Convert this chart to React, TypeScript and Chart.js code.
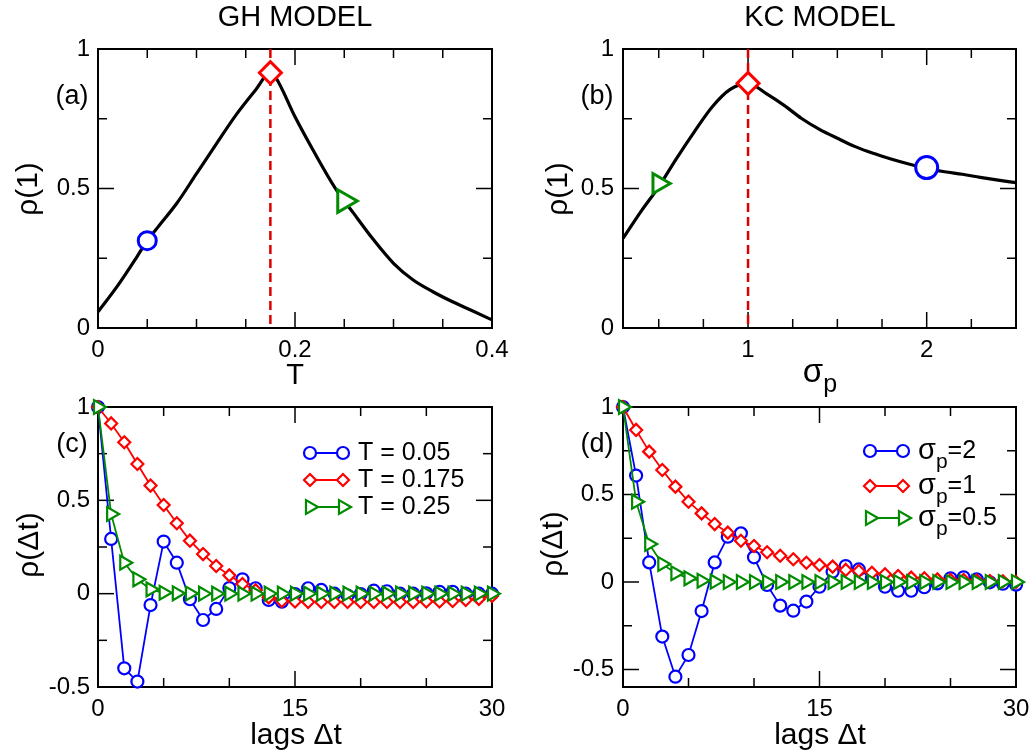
import { useEffect, useRef } from 'react';
import { Chart, registerables } from 'chart.js';

Chart.register(...registerables);

const W = 1034;
const H = 756;
const FONT = '"Liberation Sans", Arial, Helvetica, sans-serif';
const BLUE = '#0000ff';
const RED = '#ff0000';
const GREEN = '#008b00';
const DASH_RED = '#dd0000';

// ---------- Panel (a): GH model, rho(1) vs T ----------
const ghT = [0, 0.02, 0.04, 0.05, 0.06, 0.08, 0.1, 0.12, 0.14, 0.16, 0.175, 0.18, 0.2, 0.22, 0.24, 0.26, 0.28, 0.3, 0.32, 0.34, 0.36, 0.38, 0.4];
const ghRho1 = [0.058, 0.152, 0.258, 0.313, 0.358, 0.447, 0.553, 0.659, 0.763, 0.853, 0.915, 0.9, 0.757, 0.627, 0.506, 0.409, 0.315, 0.232, 0.172, 0.13, 0.094, 0.062, 0.029];
const ghPeakT = 0.175;
const ghMarkT = [0.05, 0.175, 0.25];
const ghMarkRho = [0.313, 0.915, 0.455];
const ghXTicks = [0, 0.2, 0.4];
const ghXMinor = [0.05, 0.1, 0.15, 0.25, 0.3, 0.35];
const rhoYTicks = [0, 0.5, 1];
const rhoYMinor = [0.25, 0.75];

// ---------- Panel (b): KC model, rho(1) vs sigma_p ----------
const kcSigma = [0.3, 0.4, 0.5, 0.6, 0.7, 0.8, 0.9, 1.0, 1.1, 1.2, 1.3, 1.4, 1.5, 1.6, 1.7, 1.8, 1.9, 2.0, 2.1, 2.2, 2.3, 2.4, 2.5];
const kcRho1 = [0.321, 0.417, 0.506, 0.608, 0.704, 0.793, 0.855, 0.877, 0.841, 0.799, 0.751, 0.712, 0.68, 0.65, 0.626, 0.606, 0.588, 0.572, 0.56, 0.551, 0.54, 0.53, 0.521];
const kcPeakSigma = 1;
const kcMarkSigma = [2, 1, 0.5];
const kcMarkRho = [0.575, 0.877, 0.518];
const kcXTicks = [1, 2];
const kcXMinor = [0.5, 0.75, 1.25, 1.5, 1.75, 2.25];

// ---------- Panels (c), (d): autocorrelation vs lag ----------
const lags = [0, 1, 2, 3, 4, 5, 6, 7, 8, 9, 10, 11, 12, 13, 14, 15, 16, 17, 18, 19, 20, 21, 22, 23, 24, 25, 26, 27, 28, 29, 30];
const ghAcfT005 = [1.0, 0.293, -0.4, -0.471, -0.061, 0.279, 0.166, -0.03, -0.141, -0.082, 0.03, 0.077, 0.029, -0.034, -0.043, -0.002, 0.029, 0.02, 0.0, -0.01, -0.002, 0.016, 0.013, 0.0, 0.0, 0.002, 0.01, 0.01, 0.0, 0.0, 0.0];
const ghAcfT0175 = [1.0, 0.912, 0.811, 0.695, 0.579, 0.475, 0.377, 0.284, 0.212, 0.148, 0.098, 0.052, 0.018, -0.02, -0.039, -0.042, -0.045, -0.045, -0.045, -0.045, -0.045, -0.045, -0.045, -0.045, -0.045, -0.042, -0.042, -0.039, -0.034, -0.028, -0.012];
const ghAcfT025 = [1.0, 0.427, 0.166, 0.077, 0.023, 0.005, 0.002, 0.001, 0.0, 0.0, 0.0, 0.0, 0.0, 0.0, 0.0, 0.0, 0.0, 0.0, 0.0, 0.0, 0.0, 0.0, 0.0, 0.0, 0.0, 0.0, 0.0, 0.0, 0.0, 0.0, 0.0];
const kcAcfS2 = [1.0, 0.608, 0.112, -0.312, -0.541, -0.417, -0.166, 0.112, 0.259, 0.278, 0.141, -0.017, -0.135, -0.164, -0.112, -0.027, 0.059, 0.091, 0.072, 0.021, -0.027, -0.05, -0.05, -0.03, -0.008, 0.021, 0.027, 0.015, -0.002, -0.01, -0.015];
const kcAcfS1 = [1.0, 0.869, 0.745, 0.64, 0.545, 0.459, 0.392, 0.331, 0.282, 0.236, 0.206, 0.17, 0.15, 0.13, 0.11, 0.097, 0.088, 0.069, 0.063, 0.053, 0.044, 0.034, 0.025, 0.021, 0.015, 0.011, 0.011, 0.008, 0.006, 0.004, 0.0];
const kcAcfS05 = [1.0, 0.459, 0.217, 0.103, 0.05, 0.021, 0.007, 0.002, 0.0, 0.0, 0.0, 0.0, 0.0, 0.0, 0.0, 0.0, 0.0, 0.0, 0.0, 0.0, 0.0, 0.0, 0.0, 0.0, 0.0, 0.0, 0.0, 0.0, 0.0, 0.0, 0.0];
const lagXTicks = [0, 15, 30];
const lagXMinor = [5, 10, 20, 25];
const acfYTicks = [-0.5, 0, 0.5, 1];
const acfYMinor = [-0.25, 0.25, 0.75];

type TextPart = { t: string; size?: number; dy?: number };
type TextItem = { parts: TextPart[]; x: number; y: number; size: number; align?: 'left' | 'center' | 'right'; rotate?: boolean };
type LegendItem = { color: string; style: string; radius: number; label: TextPart[] };
type PanelCfg = {
  area: [number, number, number, number];
  xRange: [number, number];
  yRange: [number, number];
  xTicks: number[];
  xMinor: number[];
  yTicks: number[];
  yMinor: number[];
  xPad: number;
  yPad: number;
  datasets: any[];
  texts: TextItem[];
  legend?: { items: LegendItem[]; x0: number; x1: number; tx: number; ys: number[] };
};

function drawMarker(ctx: CanvasRenderingContext2D, style: string, x: number, y: number, r: number) {
  ctx.beginPath();
  if (style === 'circle') {
    ctx.arc(x, y, r, 0, Math.PI * 2);
  } else if (style === 'rectRot') {
    ctx.moveTo(x - r, y);
    ctx.lineTo(x, y - r);
    ctx.lineTo(x + r, y);
    ctx.lineTo(x, y + r);
    ctx.closePath();
  } else {
    ctx.moveTo(x + r, y);
    ctx.lineTo(x - r / 2, y + r * 0.866);
    ctx.lineTo(x - r / 2, y - r * 0.866);
    ctx.closePath();
  }
  ctx.fill();
  ctx.stroke();
}

function drawRich(ctx: CanvasRenderingContext2D, item: TextItem) {
  ctx.save();
  ctx.fillStyle = '#000';
  ctx.textBaseline = 'middle';
  ctx.textAlign = 'left';
  const widths = item.parts.map((p) => {
    ctx.font = `${p.size ?? item.size}px ${FONT}`;
    return ctx.measureText(p.t).width;
  });
  const total = widths.reduce((a, b) => a + b, 0);
  ctx.translate(item.x, item.y);
  if (item.rotate) ctx.rotate(-Math.PI / 2);
  let x0 = item.align === 'left' ? 0 : item.align === 'right' ? -total : -total / 2;
  item.parts.forEach((p, i) => {
    ctx.font = `${p.size ?? item.size}px ${FONT}`;
    ctx.fillText(p.t, x0, p.dy ?? 0);
    x0 += widths[i];
  });
  ctx.restore();
}

const pts = (xs: number[], ys: number[]) => xs.map((x, i) => ({ x, y: ys[i] }));

function marker(color: string, style: string, x: number, y: number, r: number, rot = 0) {
  return {
    data: [{ x, y }],
    showLine: false,
    pointStyle: style,
    pointRadius: r,
    pointHoverRadius: r,
    pointBorderColor: color,
    pointBackgroundColor: '#fff',
    pointBorderWidth: 3,
    pointRotation: rot,
    clip: false,
    order: 0,
  };
}

function series(color: string, style: string, r: number, ys: number[], order: number, rot = 0) {
  return {
    data: pts(lags, ys),
    showLine: true,
    borderColor: color,
    borderWidth: 1.8,
    pointStyle: style,
    pointRadius: r,
    pointHoverRadius: r,
    pointBorderColor: color,
    pointBackgroundColor: '#fff',
    pointBorderWidth: 2.2,
    pointRotation: rot,
    clip: false,
    order,
  };
}

function curve(xs: number[], ys: number[]) {
  return {
    data: pts(xs, ys),
    showLine: true,
    borderColor: '#000',
    borderWidth: 3.2,
    pointRadius: 0,
    pointHoverRadius: 0,
    cubicInterpolationMode: 'monotone',
    clip: false,
    order: 2,
  };
}

function vline(x: number) {
  return {
    data: [{ x, y: 1 }, { x, y: 0 }],
    showLine: true,
    borderColor: DASH_RED,
    borderWidth: 2.5,
    borderDash: [9, 5],
    pointRadius: 0,
    pointHoverRadius: 0,
    order: 1,
  };
}

const sig = (rest: string): TextPart[] => [{ t: 'σ', size: 29 }, { t: 'p', size: 21, dy: 11 }, { t: rest }];

const panels: PanelCfg[] = [
  {
    area: [98, 49, 492, 328],
    xRange: [0, 0.4],
    yRange: [0, 1],
    xTicks: ghXTicks,
    xMinor: ghXMinor,
    yTicks: rhoYTicks,
    yMinor: rhoYMinor,
    xPad: 8,
    yPad: 8,
    datasets: [
      curve(ghT, ghRho1),
      vline(ghPeakT),
      marker(BLUE, 'circle', ghMarkT[0], ghMarkRho[0], 9),
      marker(RED, 'rectRot', ghMarkT[1], ghMarkRho[1], 11),
      marker(GREEN, 'triangle', ghMarkT[2], ghMarkRho[2], 13, 90),
    ],
    texts: [
      { parts: [{ t: 'GH MODEL' }], x: 295, y: 18, size: 29 },
      { parts: [{ t: 'T' }], x: 295, y: 376, size: 29 },
      { parts: [{ t: 'ρ(1)' }], x: 29, y: 189, size: 30, rotate: true },
      { parts: [{ t: '(a)' }], x: 72, y: 97, size: 27 },
    ],
  },
  {
    area: [623, 49, 1016, 328],
    xRange: [0.3, 2.5],
    yRange: [0, 1],
    xTicks: kcXTicks,
    xMinor: kcXMinor,
    yTicks: rhoYTicks,
    yMinor: rhoYMinor,
    xPad: 8,
    yPad: 9,
    datasets: [
      curve(kcSigma, kcRho1),
      vline(kcPeakSigma),
      marker(BLUE, 'circle', kcMarkSigma[0], kcMarkRho[0], 11),
      marker(RED, 'rectRot', kcMarkSigma[1], kcMarkRho[1], 11),
      marker(GREEN, 'triangle', kcMarkSigma[2], kcMarkRho[2], 11.5, 90),
    ],
    texts: [
      { parts: [{ t: 'KC MODEL' }], x: 820, y: 18, size: 29 },
      { parts: [{ t: 'σ', size: 33 }, { t: 'p', size: 25, dy: 12 }], x: 820, y: 373, size: 30 },
      { parts: [{ t: 'ρ(1)' }], x: 559, y: 189, size: 30, rotate: true },
      { parts: [{ t: '(b)' }], x: 597, y: 97, size: 27 },
    ],
  },
  {
    area: [98, 407, 492, 687],
    xRange: [0, 30],
    yRange: [-0.5, 1],
    xTicks: lagXTicks,
    xMinor: lagXMinor,
    yTicks: acfYTicks,
    yMinor: acfYMinor,
    xPad: 8,
    yPad: 8,
    datasets: [
      series(BLUE, 'circle', 6, ghAcfT005, 3),
      series(RED, 'rectRot', 6, ghAcfT0175, 2),
      series(GREEN, 'triangle', 8, ghAcfT025, 1, 90),
    ],
    texts: [
      { parts: [{ t: 'lags Δt' }], x: 296, y: 736, size: 30 },
      { parts: [{ t: 'ρ(Δt)' }], x: 30, y: 545, size: 30, rotate: true },
      { parts: [{ t: '(c)' }], x: 72, y: 445, size: 27 },
    ],
    legend: {
      x0: 310,
      x1: 343,
      tx: 358,
      ys: [453, 480, 507],
      items: [
        { color: BLUE, style: 'circle', radius: 6, label: [{ t: 'T = 0.05' }] },
        { color: RED, style: 'rectRot', radius: 6, label: [{ t: 'T = 0.175' }] },
        { color: GREEN, style: 'triangle', radius: 8, label: [{ t: 'T = 0.25' }] },
      ],
    },
  },
  {
    area: [623, 407, 1016, 687],
    xRange: [0, 30],
    yRange: [-0.6, 1],
    xTicks: lagXTicks,
    xMinor: lagXMinor,
    yTicks: acfYTicks,
    yMinor: acfYMinor,
    xPad: 8,
    yPad: 9,
    datasets: [
      series(BLUE, 'circle', 6, kcAcfS2, 3),
      series(RED, 'rectRot', 6, kcAcfS1, 2),
      series(GREEN, 'triangle', 8, kcAcfS05, 1, 90),
    ],
    texts: [
      { parts: [{ t: 'lags Δt' }], x: 820, y: 736, size: 30 },
      { parts: [{ t: 'ρ(Δt)' }], x: 554, y: 544, size: 30, rotate: true },
      { parts: [{ t: '(d)' }], x: 597, y: 445, size: 27 },
    ],
    legend: {
      x0: 870,
      x1: 903,
      tx: 918,
      ys: [451, 486, 518],
      items: [
        { color: BLUE, style: 'circle', radius: 6, label: sig('=2') },
        { color: RED, style: 'rectRot', radius: 6, label: sig('=1') },
        { color: GREEN, style: 'triangle', radius: 8, label: sig('=0.5') },
      ],
    },
  },
];

function buildChart(canvas: HTMLCanvasElement, p: PanelCfg) {
  const [l, t, r, b] = p.area;
  const zeroPad = (s: any) => {
    s.paddingLeft = 0;
    s.paddingRight = 0;
    s.paddingTop = 0;
    s.paddingBottom = 0;
  };
  const deco = {
    id: 'deco',
    beforeDatasetsDraw(chart: any) {
      const ctx = chart.ctx as CanvasRenderingContext2D;
      const xs = chart.scales.x;
      const ys = chart.scales.y;
      ctx.save();
      ctx.strokeStyle = '#000';
      ctx.lineWidth = 1.5;
      const tick = (x1: number, y1: number, x2: number, y2: number) => {
        ctx.beginPath();
        ctx.moveTo(x1, y1);
        ctx.lineTo(x2, y2);
        ctx.stroke();
      };
      const xt = (v: number, len: number) => {
        const px = xs.getPixelForValue(v);
        tick(px, b, px, b - len);
        tick(px, t, px, t + len);
      };
      const yt = (v: number, len: number) => {
        const py = ys.getPixelForValue(v);
        tick(l, py, l + len, py);
        tick(r, py, r - len, py);
      };
      p.xTicks.forEach((v) => xt(v, 16));
      p.xMinor.forEach((v) => xt(v, 9));
      p.yTicks.forEach((v) => yt(v, 16));
      p.yMinor.forEach((v) => yt(v, 9));
      ctx.lineWidth = 2;
      ctx.strokeRect(l, t, r - l, b - t);
      ctx.restore();
    },
    afterDraw(chart: any) {
      const ctx = chart.ctx as CanvasRenderingContext2D;
      p.texts.forEach((it) => drawRich(ctx, it));
      if (p.legend) {
        const lg = p.legend;
        lg.items.forEach((it, i) => {
          const y = lg.ys[i];
          ctx.save();
          ctx.strokeStyle = it.color;
          ctx.lineWidth = 1.8;
          ctx.beginPath();
          ctx.moveTo(lg.x0, y);
          ctx.lineTo(lg.x1, y);
          ctx.stroke();
          ctx.lineWidth = 2.2;
          ctx.fillStyle = '#fff';
          drawMarker(ctx, it.style, lg.x0, y, it.radius);
          drawMarker(ctx, it.style, lg.x1, y, it.radius);
          ctx.restore();
          drawRich(ctx, { parts: it.label, x: lg.tx, y, size: 25, align: 'left' });
        });
      }
    },
  };
  return new Chart(canvas, {
    type: 'scatter',
    data: { datasets: p.datasets },
    options: {
      responsive: false,
      animation: false,
      devicePixelRatio: 1,
      events: [],
      layout: { padding: { left: 0, top: t, right: W - r, bottom: 0 } },
      plugins: { legend: { display: false }, tooltip: { enabled: false } },
      scales: {
        x: {
          type: 'linear',
          min: p.xRange[0],
          max: p.xRange[1],
          grid: { display: false, drawTicks: false },
          border: { display: false },
          afterBuildTicks: (s: any) => {
            s.ticks = p.xTicks.map((v) => ({ value: v }));
          },
          afterFit: (s: any) => {
            s.height = H - b;
            zeroPad(s);
          },
          ticks: {
            font: { family: FONT, size: 24 },
            color: '#000',
            padding: p.xPad,
            maxRotation: 0,
            autoSkip: false,
            callback: (v: any) => String(v),
          },
        },
        y: {
          type: 'linear',
          min: p.yRange[0],
          max: p.yRange[1],
          grid: { display: false, drawTicks: false },
          border: { display: false },
          afterBuildTicks: (s: any) => {
            s.ticks = p.yTicks.map((v) => ({ value: v }));
          },
          afterFit: (s: any) => {
            s.width = l;
            zeroPad(s);
          },
          ticks: {
            font: { family: FONT, size: 24 },
            color: '#000',
            padding: p.yPad,
            autoSkip: false,
            callback: (v: any) => String(v),
          },
        },
      },
    } as any,
    plugins: [deco],
  });
}

export default function App() {
  const refs = [useRef<HTMLCanvasElement>(null), useRef<HTMLCanvasElement>(null), useRef<HTMLCanvasElement>(null), useRef<HTMLCanvasElement>(null)];
  useEffect(() => {
    const charts = panels.map((p, i) => buildChart(refs[i].current as HTMLCanvasElement, p));
    return () => charts.forEach((c) => c.destroy());
  }, []);
  return (
    <div style={{ position: 'absolute', left: 0, top: 0, width: W, height: H, background: '#fff' }}>
      {refs.map((r, i) => (
        <canvas key={i} ref={r} width={W} height={H} style={{ position: 'absolute', left: 0, top: 0, width: W, height: H }} />
      ))}
    </div>
  );
}
